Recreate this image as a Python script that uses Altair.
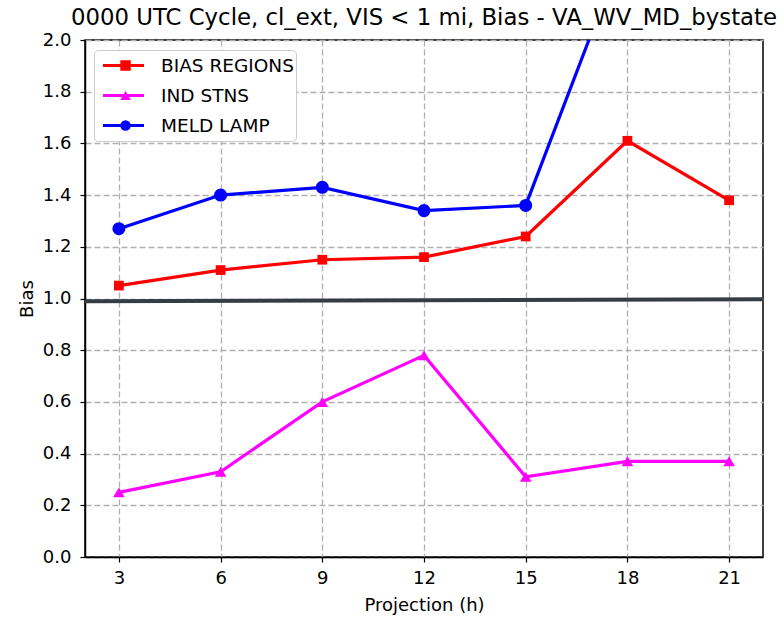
import altair as alt
import pandas as pd

hours = [3, 6, 9, 12, 15, 18, 21]
bias_regions = [1.05, 1.11, 1.15, 1.16, 1.24, 1.61, 1.38]
ind_stns = [0.25, 0.33, 0.60, 0.78, 0.31, 0.37, 0.37]
meld_lamp = [1.27, 1.40, 1.43, 1.34, 1.36, 2.39, 2.50]
series_names = ["BIAS REGIONS", "IND STNS", "MELD LAMP"]
series_colors = ["#ff0000", "#ff00ff", "#0000ff"]
series_shapes = ["square", "triangle-up", "circle"]
series_sizes = [95, 170, 95]
ref_x = [2, 22]
ref_y = [0.989, 0.997]
y_ticks = [0.0, 0.2, 0.4, 0.6, 0.8, 1.0, 1.2, 1.4, 1.6, 1.8, 2.0]

rows = []
for name, vals in zip(series_names, [bias_regions, ind_stns, meld_lamp]):
    for h, v in zip(hours, vals):
        rows.append({"hour": h, "bias": v, "series": name})
df = pd.DataFrame(rows)
ref_df = pd.DataFrame({"hour": ref_x, "bias": ref_y})

FONT = "DejaVu Sans"

x_enc = alt.X("hour:Q",
              scale=alt.Scale(domain=[2, 22], nice=False, zero=False),
              axis=alt.Axis(values=hours, title="Projection (h)", format="d"))
y_enc = alt.Y("bias:Q",
              scale=alt.Scale(domain=[0, 2], nice=False),
              axis=alt.Axis(values=y_ticks, title="Bias", format=".1f"))

ref_line = alt.Chart(ref_df).mark_line(color="#343c44", strokeWidth=4, clip=True).encode(
    x=x_enc, y=y_enc)

lines = alt.Chart(df).mark_line(strokeWidth=3.2, clip=True).encode(
    x=x_enc, y=y_enc,
    color=alt.Color("series:N",
                    scale=alt.Scale(domain=series_names, range=series_colors),
                    legend=alt.Legend(title=None, orient="none", legendX=9, legendY=10,
                                      symbolType="stroke", symbolSize=1681,
                                      symbolStrokeWidth=3.2, symbolOffset=5,
                                      labelFontSize=18.5, labelFont=FONT,
                                      labelColor="#000000", labelOffset=15,
                                      clipHeight=27, rowPadding=3, padding=2,
                                      fillColor="white", strokeColor="#cccccc",
                                      cornerRadius=4)),
)

pt_legend = alt.Legend(title=None, orient="none", legendX=29.3, legendY=10,
                       symbolSize=110, labelExpr="''", labelFontSize=18.5,
                       clipHeight=27, rowPadding=3, padding=2, symbolOpacity=1)

points = alt.Chart(df).transform_calculate(series2="datum.series").mark_point(
    filled=True, opacity=1, clip=True).encode(
    x=x_enc, y=y_enc,
    color=alt.Color("series2:N",
                    scale=alt.Scale(domain=series_names, range=series_colors),
                    legend=pt_legend),
    shape=alt.Shape("series2:N",
                    scale=alt.Scale(domain=series_names, range=series_shapes),
                    legend=pt_legend),
    size=alt.Size("series2:N",
                  scale=alt.Scale(domain=series_names, range=series_sizes),
                  legend=None),
)

chart = alt.layer(ref_line, lines, points).resolve_scale(
    color="independent", shape="independent"
).properties(
    width=678, height=517,
    title=alt.Title("0000 UTC Cycle, cl_ext, VIS < 1 mi, Bias - VA_WV_MD_bystate",
                    fontSize=22.8, font=FONT, fontWeight="normal", color="#000000",
                    anchor="middle", offset=1),
    autosize=alt.AutoSizeParams(type="none"),
    padding={"left": 85, "top": 40, "right": 18, "bottom": 62},
).configure_view(
    stroke="#000000", strokeWidth=1.5
).configure_axis(
    labelFont=FONT, titleFont=FONT, labelFontSize=18, titleFontSize=18,
    labelColor="#000000", titleColor="#000000", titleFontWeight="normal",
    domainColor="#000000", domainWidth=1.5, tickColor="#000000", tickSize=5,
    tickWidth=1.2, gridColor="#b0b0b0", gridDash=[6, 3], gridWidth=1.3
).configure_axisX(
    labelPadding=7, titlePadding=9
).configure_axisY(
    labelPadding=9, titlePadding=6
)

chart.save("out.html", embed_options={"renderer": "svg", "actions": False})
